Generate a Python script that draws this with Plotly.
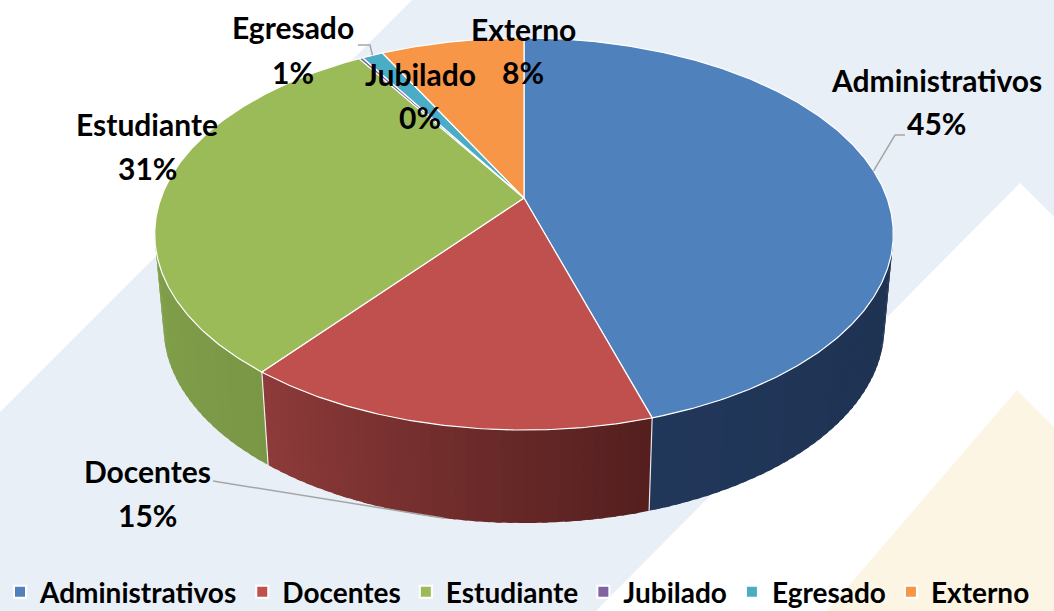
import numpy as np
import plotly.graph_objects as go

# ---------------- data ----------------
categories = ["Administrativos", "Docentes", "Estudiante", "Jubilado", "Egresado", "Externo"]
values = [45.3, 15.3, 30.6, 0.2, 1.1, 7.5]   # percent share

# ---------------- styles ----------------
top_colors = ["#4f81bd", "#c0504d", "#9bbb59", "#8064a2", "#4bacc6", "#f79646"]
# side colour at (start angle, end angle) of each slice
side_colors = [("#1e3250", "#21375a"), ("#531f1e", "#8e3b3a"), ("#7a9746", "#82a04b"),
               ("#5f4a7a", "#5f4a7a"), ("#378a9e", "#378a9e"), ("#c0702e", "#c0702e")]
label_pos = [(936, 80, 123), (147, 471, 515), (147, 124, 168),
             (420, 74, 117), (293, 27, 72), (523, 29, 72)]
leader_from = {0: [(905, 135), (895, 135)], 1: [(213, 481)], 4: [(358, 45), (370, 45)]}
leader_bottom = {1}

W, H = 1054, 611
CX, CY = 524.0, 198.0          # projected centre of the pie top
A, B, K = 363.0, 189.4, 0.1837  # ellipse half-axes and perspective factor
T = 93.0                        # thickness
BOT_SX = 0.976                  # bottom rim horizontal shrink (perspective)
FONT = "Lato"
FS = 30
LEG_FS = 28


def rim(theta_deg, bottom=False):
    t = np.radians(np.asarray(theta_deg, dtype=float))
    s = 1.0 / (1.0 + K * np.cos(t))
    dx = A * np.sin(t) * s
    y = CY - B * np.cos(t) * s
    if bottom:
        dx = dx * BOT_SX
        y = y + T
    return CX + dx, y


def hex_to_rgb(h):
    h = h.lstrip("#")
    return tuple(int(h[i:i + 2], 16) for i in (0, 2, 4))


def mix(c1, c2, f):
    a, b = hex_to_rgb(c1), hex_to_rgb(c2)
    return "rgb(%d,%d,%d)" % tuple(round(a[i] + (b[i] - a[i]) * f) for i in range(3))


total = sum(values)
cum = np.concatenate([[0], np.cumsum(values)]) / total * 360.0
starts, ends = cum[:-1], cum[1:]
vis0 = np.degrees(np.arccos(-K))
vis1 = 360.0 - vis0

fig = go.Figure()

# ---- side walls: gradient strips (overlapping to hide seams) ----
for i in range(len(values)):
    a0, a1 = max(starts[i], vis0), min(ends[i], vis1)
    if a1 <= a0:
        continue
    n = max(1, int((a1 - a0) / 1.5))
    edges = np.linspace(a0, a1, n + 1)
    for j in range(n):
        th = np.linspace(edges[j], min(edges[j + 1] + 0.8, a1), 5)
        xt, yt = rim(th)
        xb, yb = rim(th[::-1], bottom=True)
        col = mix(side_colors[i][0], side_colors[i][1], (j + 0.5) / n)
        fig.add_trace(go.Scatter(
            x=np.concatenate([xt, xb, xt[:1]]), y=np.concatenate([yt, yb, yt[:1]]),
            mode="lines", fill="toself", fillcolor=col, line=dict(width=0),
            hoverinfo="skip", showlegend=False))

# ---- vertical seams between side walls ----
for i in range(len(values)):
    b = ends[i]
    if vis0 < b < vis1:
        xt, yt = rim(b)
        xb, yb = rim(b, bottom=True)
        fig.add_trace(go.Scatter(x=[xt, xb], y=[yt, yb], mode="lines",
                                 line=dict(color="rgba(255,255,255,0.85)", width=1.2),
                                 hoverinfo="skip", showlegend=False))

# ---- top faces ----
for i in range(len(values)):
    th = np.linspace(starts[i], ends[i], max(3, int((ends[i] - starts[i]) * 2) + 2))
    xr, yr = rim(th)
    fig.add_trace(go.Scatter(
        x=np.concatenate([[CX], xr, [CX]]), y=np.concatenate([[CY], yr, [CY]]),
        mode="lines", fill="toself", fillcolor=top_colors[i],
        line=dict(color="white", width=1.2), hoverinfo="skip", showlegend=False))

# ---- leader lines ----
for i, pts in leader_from.items():
    mid = (starts[i] + ends[i]) / 2
    ex, ey = rim(mid, bottom=(i in leader_bottom))
    xs = [p[0] for p in pts] + [float(ex)]
    ys = [p[1] for p in pts] + [float(ey)]
    fig.add_trace(go.Scatter(x=xs, y=ys, mode="lines", line=dict(color="#a6a6a6", width=1.5),
                             hoverinfo="skip", showlegend=False))

# ---- data labels ----
for i, cat in enumerate(categories):
    x, y1, y2 = label_pos[i]
    pct = f"{values[i] / total * 100:.0f}%"
    for txt, yy in ((cat, y1), (pct, y2)):
        fig.add_annotation(x=x, y=yy, text=txt, showarrow=False, xanchor="center", yanchor="middle",
                           font=dict(family=FONT, size=FS, color="black", weight="bold"))

# ---- legend entries ----
for i, cat in enumerate(categories):
    fig.add_trace(go.Scatter(x=[None], y=[None], mode="markers", name=cat,
                             marker=dict(symbol="square", size=12, color=top_colors[i],
                                         line=dict(color="white", width=2))))

# ---- background decoration ----
shapes = [
    dict(type="path", path="M 0,0 L 412,0 L 0,412 Z", fillcolor="white", line=dict(width=0)),
    dict(type="path", path="M 1020,183 L 1054,217 L 1054,611 L 596,611 Z", fillcolor="white", line=dict(width=0)),
    dict(type="path", path="M 1017,390 L 1054,427 L 1054,611 L 827,611 Z", fillcolor="#fdf5e4", line=dict(width=0)),
]
for s in shapes:
    s.update(xref="x", yref="y", layer="below")

fig.update_layout(
    width=W, height=H,
    margin=dict(l=0, r=0, t=0, b=0, pad=0, autoexpand=False),
    paper_bgcolor="#e9eff7", plot_bgcolor="#e9eff7",
    xaxis=dict(range=[0, W], visible=False, fixedrange=True),
    yaxis=dict(range=[H, 0], visible=False, fixedrange=True),
    shapes=shapes,
    hovermode=False,
    showlegend=True,
    legend=dict(orientation="h", x=0, xanchor="left", y=0.031, yanchor="middle",
                bgcolor="rgba(0,0,0,0)", font=dict(family=FONT, size=LEG_FS, color="black", weight="bold"),
                itemclick=False, itemdoubleclick=False, traceorder="normal"),
)

fig.write_html("out.html", config={"displayModeBar": False},
               post_script="document.body.style.margin='0';document.documentElement.style.overflow='hidden';")
